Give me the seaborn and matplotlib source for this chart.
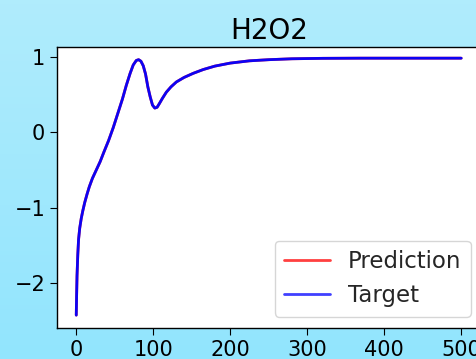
import numpy as np
import matplotlib
matplotlib.use("Agg")
import matplotlib.pyplot as plt
import seaborn as sns

# values (H2O2, prediction and target overlap)
steps = [0, 0.5, 1, 2, 3, 4.5, 6.5, 8.5, 11, 14, 17, 21, 26, 31, 36, 42, 48, 54,
         60, 65, 70, 74, 78, 81, 84, 87, 90, 93, 96, 99, 102, 105, 108, 112, 117,
         123, 130, 140, 152, 165, 180, 200, 225, 250, 280, 320, 370, 430, 500]
target = [-2.42, -2.15, -1.90, -1.62, -1.42, -1.27, -1.14, -1.04, -0.93, -0.82,
          -0.72, -0.61, -0.50, -0.39, -0.26, -0.11, 0.06, 0.25, 0.44, 0.62, 0.78,
          0.89, 0.95, 0.96, 0.94, 0.88, 0.77, 0.60, 0.47, 0.36, 0.32, 0.33, 0.38,
          0.45, 0.53, 0.60, 0.665, 0.725, 0.78, 0.83, 0.875, 0.915, 0.945, 0.96,
          0.972, 0.978, 0.98, 0.98, 0.98]
prediction = list(target)

sns.set_style("ticks")
plt.rcParams['font.family'] = ['DejaVu Sans']

fig = plt.figure(figsize=(4.77, 3.59), dpi=100)

# light blue gradient background
bg = fig.add_axes([0, 0, 1, 1], zorder=-1)
top_col = np.array([176, 236, 252]) / 255
bot_col = np.array([146, 229, 254]) / 255
t = np.linspace(0, 1, 100)[:, None, None]
grad = top_col * (1 - t) + bot_col * t
bg.imshow(grad, aspect='auto', extent=[0, 1, 0, 1])
bg.axis('off')

ax = fig.add_axes([0.1195, 0.0864, 0.891, 0.7827])
ax.set_facecolor('white')

sns.lineplot(x=steps, y=prediction, ax=ax, color='red', alpha=0.8,
             linewidth=2, label='Prediction')
sns.lineplot(x=steps, y=target, ax=ax, color='blue', alpha=0.95,
             linewidth=2, label='Target')

ax.set_xlim(-25, 527)
ax.set_ylim(-2.59, 1.128)
ax.set_xticks([0, 100, 200, 300, 400, 500])
ax.set_yticks([-2, -1, 0, 1])
ax.tick_params(labelsize=15, colors='black', length=5)
for s in ax.spines.values():
    s.set_color('black')
    s.set_linewidth(1)

ax.set_title('H2O2', fontsize=20, color='black')
leg = ax.legend(loc='lower right', fontsize=16.5, frameon=True)
for line in leg.get_lines():
    line.set_alpha(0.75)

fig.savefig('out.png', dpi=100)
